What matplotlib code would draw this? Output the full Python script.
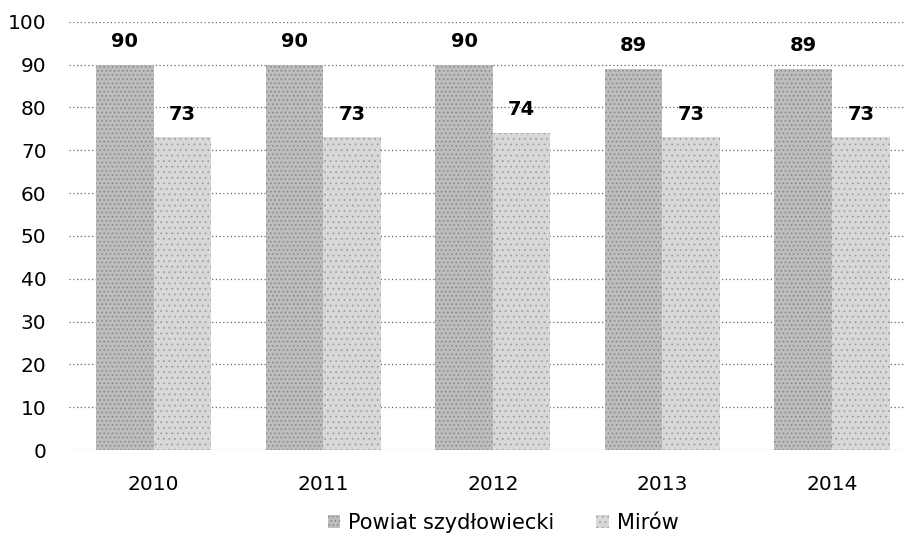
import matplotlib.pyplot as plt
import numpy as np

years = ["2010", "2011", "2012", "2013", "2014"]
powiat = [90, 90, 90, 89, 89]
mirow = [73, 73, 74, 73, 73]
series_names = ["Powiat szydłowiecki", "Mirów"]

plt.rcParams['font.family'] = ['DejaVu Sans']
plt.rcParams['hatch.linewidth'] = 0.6

fig = plt.figure(figsize=(9.05, 5.45), dpi=100)
ax = fig.add_axes([0.076, 0.174, 0.924, 0.786])

x = np.arange(len(years))
w = 0.34
b1 = ax.bar(x - w / 2, powiat, w, color='#bdbdbd', edgecolor='#858585',
            hatch='....', linewidth=0, label=series_names[0], zorder=2)
b2 = ax.bar(x + w / 2, mirow, w, color='#d8d8d8', edgecolor='#a0a0a0',
            hatch='...', linewidth=0, label=series_names[1], zorder=2)

for bars, vals in ((b1, powiat), (b2, mirow)):
    for bar, v in zip(bars, vals):
        ax.annotate(str(v), (bar.get_x() + bar.get_width() / 2, v),
                    xytext=(0, 10), textcoords='offset points',
                    ha='center', va='bottom', fontsize=14, fontweight='bold')

ax.set_ylim(0, 100)
ax.set_xlim(-0.5, 4.43)
ax.set_yticks(range(0, 101, 10))
ax.set_xticks(x)
ax.set_xticklabels(years)
ax.tick_params(axis='y', length=0, pad=16, labelsize=14.5)
ax.tick_params(axis='x', length=0, pad=18, labelsize=14.5)
ax.yaxis.grid(True, linestyle=(0, (1, 2)), color='#666666', linewidth=0.9, zorder=0)
ax.set_axisbelow(True)
for s in ax.spines.values():
    s.set_visible(False)

fig.legend(loc='center', bbox_to_anchor=(0.556, 0.04), ncol=2, frameon=False,
           fontsize=15, handlelength=0.6, handleheight=0.6, handletextpad=0.4,
           columnspacing=2.0)

fig.savefig('out.png', dpi=100)
